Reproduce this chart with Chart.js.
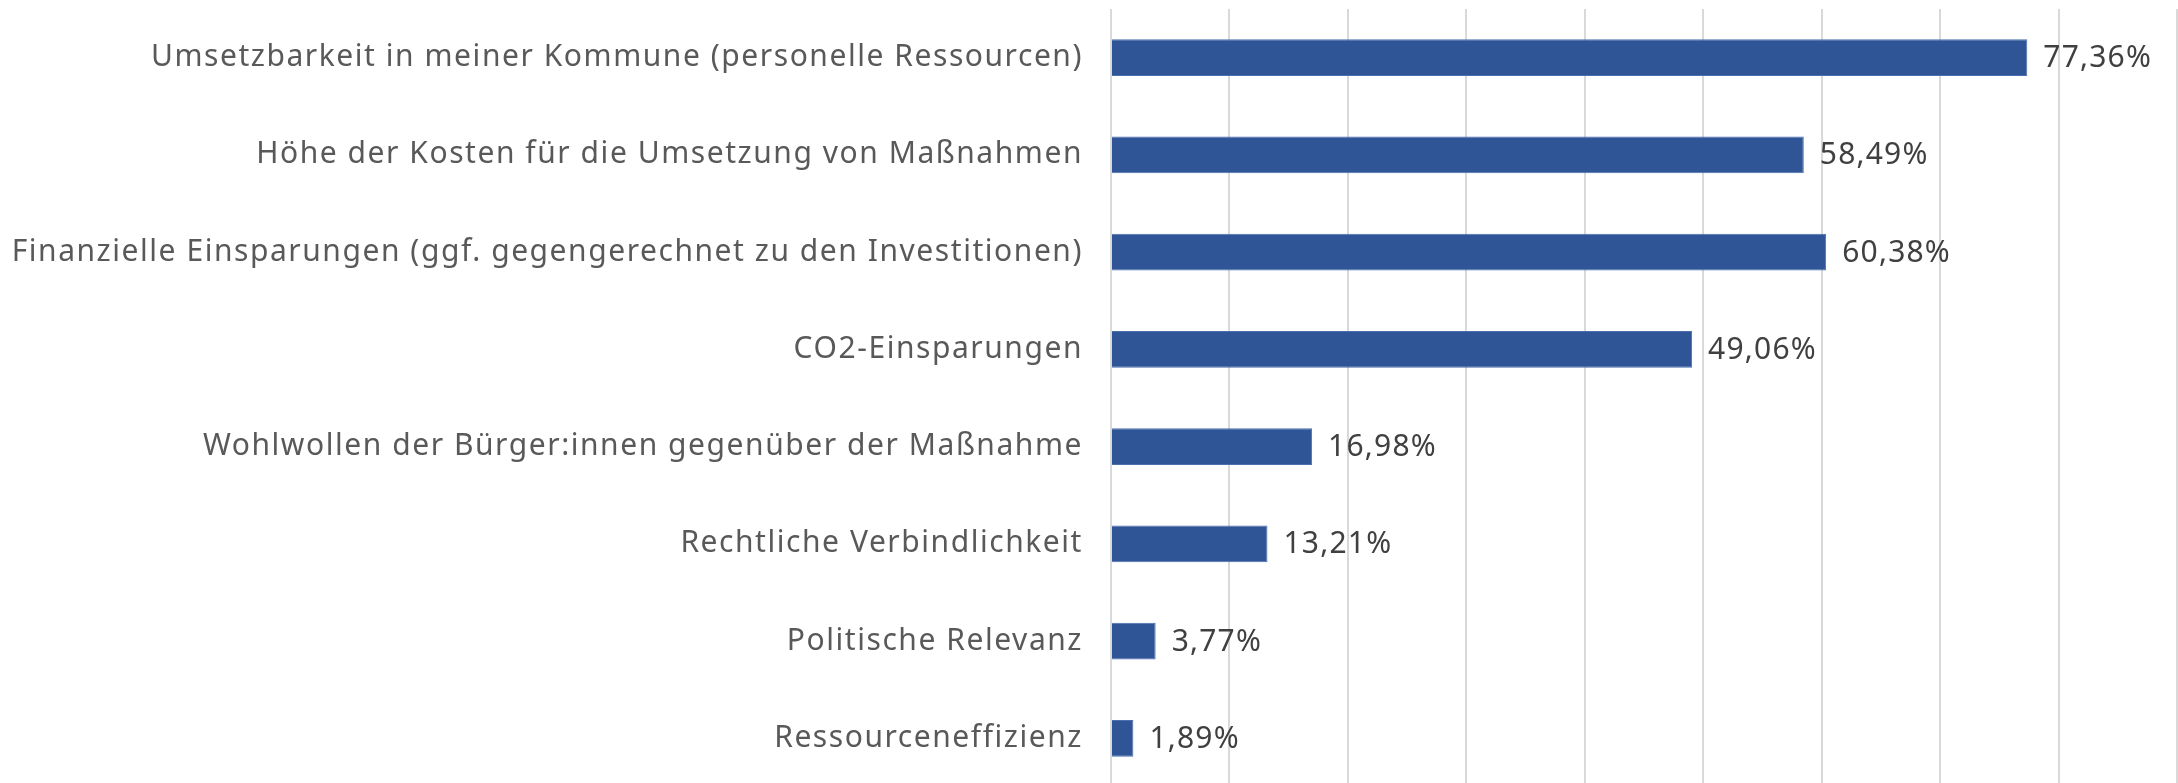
<!DOCTYPE html>
<html>
<head>
<meta charset="utf-8">
<script src="https://cdn.jsdelivr.net/npm/chart.js@4"></script>
<style>
  html, body { margin: 0; padding: 0; background: #fff; overflow: hidden; }
  #wrap { width: 2178px; height: 787px; }
</style>
</head>
<body>
<div id="wrap"><canvas id="grafico" width="2178" height="787"></canvas></div>
<script>
const kategorien = [
  "Umsetzbarkeit in meiner Kommune (personelle Ressourcen)",
  "Höhe der Kosten für die Umsetzung von Maßnahmen",
  "Finanzielle Einsparungen (ggf. gegengerechnet zu den Investitionen)",
  "CO2-Einsparungen",
  "Wohlwollen der Bürger:innen gegenüber der Maßnahme",
  "Rechtliche Verbindlichkeit",
  "Politische Relevanz",
  "Ressourceneffizienz"
];
const werte = [77.36, 58.49, 60.38, 49.06, 16.98, 13.21, 3.77, 1.89];
const xMax = 90;
const xSchritt = 10;

const schrift = '"Noto Sans", sans-serif';

// etwas Zeichenabstand, die Originalschrift läuft breiter
const abstand = {
  id: "abstand",
  beforeDraw(chart) {
    chart.ctx.letterSpacing = "1.55px";
  }
};

// Werte rechts neben die Balken schreiben
const wertBeschriftung = {
  id: "wertBeschriftung",
  afterDatasetsDraw(chart) {
    const ctx = chart.ctx;
    const meta = chart.getDatasetMeta(0);
    ctx.save();
    ctx.font = "30px " + schrift;
    ctx.letterSpacing = "1.2px";
    ctx.fillStyle = "#404040";
    ctx.textAlign = "left";
    ctx.textBaseline = "middle";
    meta.data.forEach((bar, i) => {
      const txt = werte[i].toFixed(2).replace(".", ",") + "%";
      ctx.fillText(txt, bar.x + 16, bar.y + 1);
    });
    ctx.restore();
  }
};

const ctx = document.getElementById("grafico").getContext("2d");
new Chart(ctx, {
  type: "bar",
  data: {
    labels: kategorien,
    datasets: [{
      data: werte,
      backgroundColor: "#2F5597",
      borderColor: "#4A6FAF",
      borderWidth: 1,
      barPercentage: 0.38,
      categoryPercentage: 1.0
    }]
  },
  options: {
    indexAxis: "y",
    responsive: false,
    animation: false,
    layout: { padding: { top: 9, right: 1, bottom: 0, left: 0 } },
    plugins: {
      legend: { display: false },
      tooltip: { enabled: false }
    },
    scales: {
      x: {
        min: 0,
        max: xMax,
        ticks: { display: false, stepSize: xSchritt },
        grid: { color: "#d9d9d9", lineWidth: 2, drawTicks: false },
        border: { display: false }
      },
      y: {
        grid: { display: false },
        border: { display: false },
        ticks: {
          color: "#595959",
          font: { family: schrift, size: 30 },
          padding: 20
        },
        afterFit(scale) {
          scale.width = 1111;
          scale.paddingTop = 0;
          scale.paddingBottom = 0;
        }
      }
    }
  },
  plugins: [abstand, wertBeschriftung]
});
</script>
</body>
</html>
